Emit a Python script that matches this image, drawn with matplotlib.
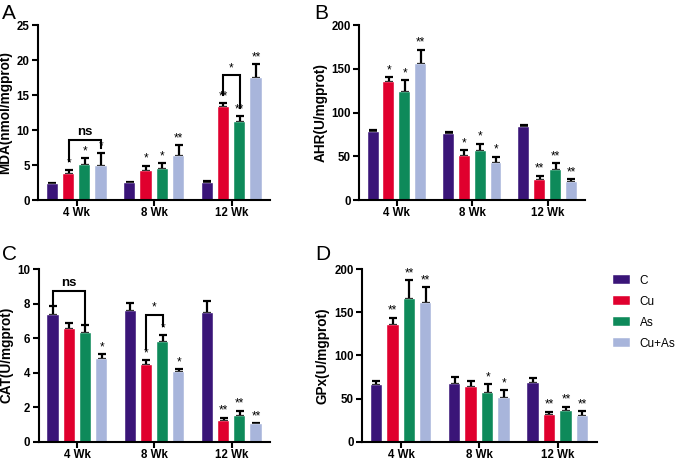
import numpy as np
import matplotlib
matplotlib.use("Agg")
import matplotlib.pyplot as plt

plt.rcParams['font.family'] = ['Liberation Sans', 'DejaVu Sans']

weeks = ['4 Wk', '8 Wk', '12 Wk']
groups = ['C', 'Cu', 'As', 'Cu+As']
colors = ['#3a1578', '#e0002e', '#0e8a5a', '#a8b5db']

# rows = groups (C, Cu, As, Cu+As), columns = weeks
mda = [[2.3, 2.45, 2.5], [3.7, 4.2, 13.3], [5.0, 4.45, 11.1], [4.8, 6.3, 17.5]]
mda_err = [[0.15, 0.1, 0.15], [0.6, 0.7, 0.5], [1.0, 0.85, 0.85], [1.85, 1.5, 1.9]]
mda_sig = [['', '', ''], ['*', '*', '**'], ['*', '*', '**'], ['*', '**', '**']]

ahr = [[78, 75.7, 83], [135.4, 50.2, 22.4], [123.6, 55.5, 34.6], [155.9, 42.6, 20.5]]
ahr_err = [[2.2, 2, 2.3], [5, 6.5, 5.4], [13, 8.8, 7.6], [16, 6.8, 3.5]]
ahr_sig = [['', '', ''], ['*', '*', '**'], ['*', '*', '**'], ['**', '*', '**']]

cat = [[7.36, 7.55, 7.46], [6.55, 4.42, 1.21], [6.3, 5.77, 1.5], [4.78, 4.04, 1.02]]
cat_err = [[0.48, 0.48, 0.68], [0.34, 0.3, 0.19], [0.44, 0.4, 0.3], [0.29, 0.15, 0.05]]
cat_sig = [['', '', ''], ['', '*', '**'], ['', '*', '**'], ['*', '*', '**']]

gpx = [[65.3, 67.2, 67.9], [134.7, 63.4, 30.4], [165.8, 56.9, 36], [160.2, 50.5, 29.2]]
gpx_err = [[5.3, 7.9, 5.3], [9.1, 6.8, 4.5], [21, 9.5, 4.6], [18.5, 9.1, 6.5]]
gpx_sig = [['', '', ''], ['**', '', '**'], ['**', '*', '**'], ['**', '*', '**']]

fig = plt.figure(figsize=(6.79, 4.63), dpi=100)

step = 0.21
width = 0.145
x = np.arange(len(weeks))


def panel(rect, vals, errs, sigs, ymax, ystep, ylabel, letter, lpos):
    ax = fig.add_axes(rect)
    for i, g in enumerate(groups):
        pos = x + (i - 1.5) * step
        v = np.array(vals[i])
        e = np.array(errs[i])
        ax.bar(pos, v, width, color=colors[i], label=g, zorder=2,
               edgecolor='white', linewidth=0.3)
        ax.errorbar(pos, v, yerr=[np.zeros_like(e), e], fmt='none',
                    ecolor='black', elinewidth=1.6, capsize=3.2,
                    capthick=1.6, zorder=1)
        for j in range(len(weeks)):
            if sigs[i][j]:
                ax.text(pos[j], v[j] + e[j] + ymax * 0.005, sigs[i][j],
                        ha='center', va='bottom', fontsize=8.5, zorder=3)
    ax.set_xlim(-0.5, 2.5)
    ax.set_ylim(0, ymax)
    ax.set_yticks(np.arange(0, ymax + 0.01, ystep))
    ax.set_xticks(x)
    ax.set_xticklabels(weeks)
    for s in ['top', 'right']:
        ax.spines[s].set_visible(False)
    for s in ['left', 'bottom']:
        ax.spines[s].set_linewidth(1.5)
    ax.tick_params(width=1.5, length=4, labelsize=8.3, pad=2)
    ax.tick_params(axis='x', pad=1)
    for t in ax.get_xticklabels() + ax.get_yticklabels():
        t.set_fontweight('bold')
    ax.set_ylabel(ylabel, fontsize=9.8, fontweight='bold', labelpad=3)
    fig.text(lpos[0], lpos[1], letter, fontsize=15, ha='left', va='center')
    return ax


def bracket(ax, i1, i2, wk, y, y1, y2, label, dy):
    p1 = wk + (i1 - 1.5) * step
    p2 = wk + (i2 - 1.5) * step
    ax.plot([p1, p1, p2, p2], [y1, y, y, y2], color='black', lw=1.5,
            zorder=3, solid_joinstyle='miter')
    ax.text((p1 + p2) / 2, y + dy, label, ha='center', va='bottom',
            fontsize=9.5 if label == 'ns' else 8.5,
            fontweight='bold' if label == 'ns' else 'normal')


axA = panel([0.056, 0.568, 0.342, 0.378], mda, mda_err, mda_sig, 25, 5,
            'MDA(nmol/mgprot)', 'A', (0.003, 0.97))
bracket(axA, 1, 3, 0, 8.6, 5.6, 7.4, 'ns', 0.2)
bracket(axA, 1, 2, 2, 17.8, 15.0, 13.1, '*', 0.1)

axB = panel([0.529, 0.568, 0.333, 0.378], ahr, ahr_err, ahr_sig, 200, 50,
            'AHR(U/mgprot)', 'B', (0.463, 0.97))

axC = panel([0.057, 0.046, 0.341, 0.373], cat, cat_err, cat_sig, 10, 2,
            'CAT(U/mgprot)', 'C', (0.003, 0.451))
bracket(axC, 0, 2, 0, 8.75, 7.95, 6.8, 'ns', 0.1)
bracket(axC, 1, 2, 1, 7.35, 5.35, 6.7, '*', 0.05)

axD = panel([0.533, 0.046, 0.346, 0.373], gpx, gpx_err, gpx_sig, 200, 50,
            'GPx(U/mgprot)', 'D', (0.465, 0.451))

handles, labels = axD.get_legend_handles_labels()
fig.legend(handles, labels, loc='upper left', bbox_to_anchor=(0.903, 0.406),
           frameon=False, fontsize=8.5, handlelength=1.45, handleheight=0.8,
           labelspacing=0.75, handletextpad=0.8, borderaxespad=0, borderpad=0)

fig.savefig('out.png', dpi=100)
